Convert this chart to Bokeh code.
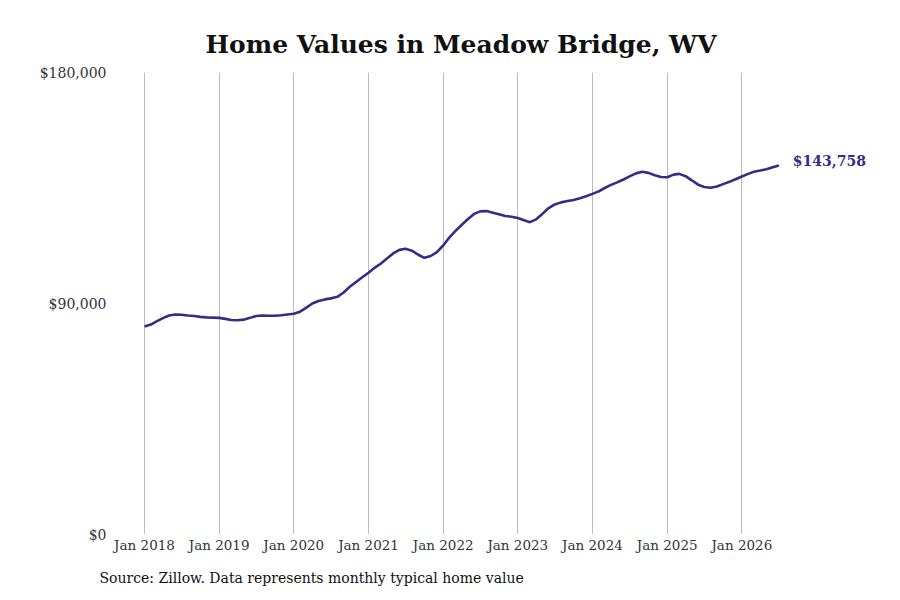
from datetime import datetime
from bokeh.plotting import figure
from bokeh.models import FixedTicker, NumeralTickFormatter, Range1d, Title, ColumnDataSource
from bokeh.core.properties import value
from bokeh.embed import file_html
from bokeh.resources import INLINE

# ---- data (thousands of USD, monthly, Jan 2018 .. Jul 2026) ----
start_year = 2018
start_month = 1
values_k = [
    # 2018
    81.0, 81.8, 83.0, 84.3, 85.3, 85.7, 85.6, 85.3, 85.1, 84.8, 84.6, 84.5,
    # 2019
    84.4, 84.0, 83.6, 83.5, 83.7, 84.4, 85.1, 85.3, 85.2, 85.2, 85.4, 85.7,
    # 2020
    86.0, 86.8, 88.3, 90.0, 91.0, 91.6, 92.0, 92.6, 94.3, 96.5, 98.4, 100.2,
    # 2021
    102.0, 104.0, 105.5, 107.5, 109.5, 110.9, 111.3, 110.6, 109.0, 107.8, 108.5, 110.0,
    # 2022
    112.6, 115.8, 118.2, 120.6, 122.8, 124.9, 125.9, 126.0, 125.4, 124.8, 124.1, 123.8,
    # 2023
    123.3, 122.4, 121.7, 122.8, 124.9, 127.2, 128.6, 129.4, 129.9, 130.3, 131.0, 131.8,
    # 2024
    132.7, 133.7, 135.0, 136.2, 137.2, 138.3, 139.5, 140.7, 141.3, 140.9, 140.0, 139.3,
    # 2025
    139.2, 140.2, 140.5, 139.6, 138.0, 136.3, 135.4, 135.1, 135.6, 136.5, 137.4, 138.4,
    # 2026
    139.5, 140.5, 141.3, 141.8, 142.3, 143.1, 143.758,
]
tick_years = [2018, 2019, 2020, 2021, 2022, 2023, 2024, 2025, 2026]
tick_labels = ["Jan 2018", "Jan 2019", "Jan 2020", "Jan 2021", "Jan 2022",
               "Jan 2023", "Jan 2024", "Jan 2025", "Jan 2026"]
y_ticks = [0, 90000, 180000]
end_label = "$143,758"
title_text = "Home Values in Meadow Bridge, WV"
source_text = "Source: Zillow. Data represents monthly typical home value"

# ---- build ----
def ms(dt):
    return (dt - datetime(1970, 1, 1)).total_seconds() * 1000.0

dates = []
for i in range(len(values_k)):
    m = start_month - 1 + i
    dates.append(datetime(start_year + m // 12, m % 12 + 1, 1))
xs = [ms(d) for d in dates]
ys = [v * 1000 for v in values_k]

FONT = "DejaVu Serif"
COLOR = "#312e86"

DAY = 86400000.0
x0 = ms(datetime(2018, 1, 1)) - 5 * DAY
x_end = ms(datetime(2027, 11, 20))

p = figure(width=884, height=600, output_backend="svg", toolbar_location=None,
           x_axis_type="datetime",
           x_range=Range1d(x0, x_end), y_range=Range1d(0, 180000),
           min_border_left=143, min_border_right=2, min_border_top=72,
           min_border_bottom=66)
p.outline_line_color = None
p.background_fill_color = "white"
p.border_fill_color = "white"

p.title.text = title_text
p.title.text_font = FONT
p.title.text_font_size = "25px"
p.title.text_font_style = "bold"
p.title.text_color = "#111111"
p.title.align = "left"
p.title.offset = 62
p.title.standoff = 27

src = ColumnDataSource(dict(x=xs, y=ys))
p.line("x", "y", source=src, line_color=COLOR, line_width=2.6)

lbl = ColumnDataSource(dict(x=[xs[-1]], y=[ys[-1]], t=[end_label]))
p.text("x", "y", text="t", source=lbl, x_offset=14, y_offset=-5,
       text_font=value(FONT), text_font_size="14px", text_font_style="bold",
       text_color=COLOR, text_baseline="middle", text_align="left")

# x axis
xt = [ms(datetime(y, 1, 1)) for y in tick_years]
p.xaxis.ticker = FixedTicker(ticks=xt)
p.xaxis.major_label_overrides = {t: l for t, l in zip(xt, tick_labels)}
p.xaxis.axis_line_color = None
p.xaxis.major_tick_line_color = None
p.xaxis.minor_tick_line_color = None
p.xaxis.major_tick_out = 0
p.xaxis.major_tick_in = 0
p.xaxis.major_label_standoff = 2
p.xaxis.major_label_text_font = FONT
p.xaxis.major_label_text_font_size = "13.5px"
p.xaxis.major_label_text_color = "#333333"

# y axis
p.yaxis.ticker = FixedTicker(ticks=y_ticks)
p.yaxis.formatter = NumeralTickFormatter(format="$0,0")
p.yaxis.axis_line_color = None
p.yaxis.major_tick_line_color = None
p.yaxis.minor_tick_line_color = None
p.yaxis.major_tick_out = 0
p.yaxis.major_tick_in = 0
p.yaxis.major_label_standoff = 37
p.yaxis.major_label_text_font = FONT
p.yaxis.major_label_text_font_size = "14px"
p.yaxis.major_label_text_color = "#333333"

p.xgrid.grid_line_color = "#bbbbbb"
p.xgrid.grid_line_width = 1
p.ygrid.grid_line_color = None

p.add_layout(Title(text=source_text, text_font=FONT, text_font_size="14px",
                   text_font_style="normal", text_color="#111111", align="left",
                   offset=-44, standoff=24), "below")

open("out.html", "w").write(file_html(p, INLINE))
